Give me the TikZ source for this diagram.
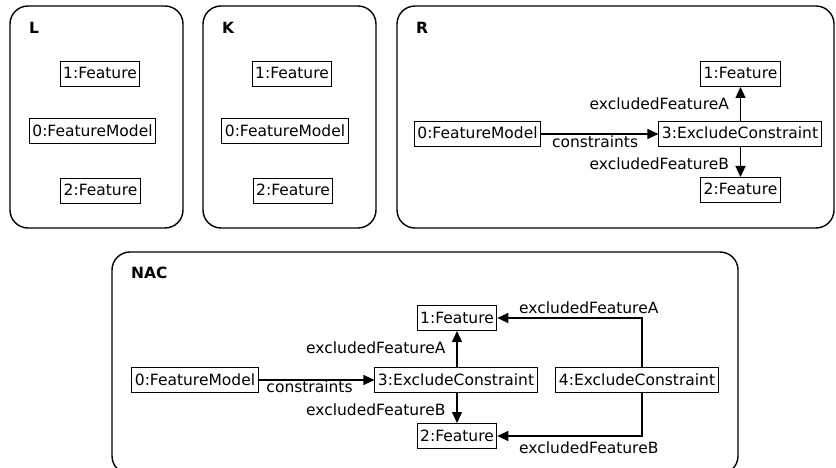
\documentclass[tikz,border=0pt]{standalone}
\usepackage{fontspec}
\setmainfont{DejaVu Sans}
\usetikzlibrary{arrows.meta,calc}
\begin{document}
\begin{tikzpicture}[x=1pt,y=-1pt,
  font=\fontsize{15.5}{18}\selectfont,
  container/.style={draw, line width=1.4pt, rounded corners=18pt},
  title/.style={font=\fontsize{15.5}{18}\selectfont\bfseries, anchor=west, inner sep=0pt},
  obj/.style={draw, line width=1pt, inner xsep=3pt, inner ysep=0pt, minimum height=25pt, text height=11.5pt, text depth=1.5pt},
  lbl/.style={inner sep=1pt, text height=11.5pt, text depth=3pt},
  conn/.style={line width=1.2pt, -{Triangle[length=11pt,width=10pt]}}
]
\useasboundingbox (0,0) rectangle (836,468);

% containers
\draw[container] (10,6) rectangle (183,228);
\draw[container] (203,6) rectangle (376,228);
\draw[container] (397,6) rectangle (834,228);
\draw[container] (112,252) rectangle (738,474);

\node[title] (tL) at (29,28) {L};
\node[title] (tK) at (222,28) {K};
\node[title] (tR) at (416,28) {R};
\node[title] (tN) at (131,273) {NAC};

% L
\node[obj] (l1) at (100,74) {1:Feature};
\node[obj] (l0) at (92.5,131.5) {0:FeatureModel};
\node[obj] (l2) at (100.5,191) {2:Feature};

% K
\node[obj] (k1) at (292,74) {1:Feature};
\node[obj] (k0) at (285,131.5) {0:FeatureModel};
\node[obj] (k2) at (293,191) {2:Feature};

% R
\node[obj] (r0) at (477.5,134) {0:FeatureModel};
\node[obj] (r3) at (740,134) {3:ExcludeConstraint};
\node[obj] (r1) at (740.5,74) {1:Feature};
\node[obj] (r2) at (740.5,190) {2:Feature};

\draw[conn] (r0) -- node[lbl, below, pos=0.46] {constraints} (r3);
\draw[conn] (r3.north -| r1.south) -- node[lbl, left=10pt, midway, yshift=-1pt] {excludedFeatureA} (r1.south);
\draw[conn] (r3.south -| r2.north) -- node[lbl, left=10pt, pos=0.62] {excludedFeatureB} (r2.north);

% NAC
\node[obj] (n0) at (195,380) {0:FeatureModel};
\node[obj] (n3) at (456,380) {3:ExcludeConstraint};
\node[obj] (n4) at (637,380) {4:ExcludeConstraint};
\node[obj] (n1) at (457,318) {1:Feature};
\node[obj] (n2) at (457,436) {2:Feature};

\draw[conn] (n0) -- node[lbl, below, pos=0.44, inner sep=0pt] {constraints} (n3);
\draw[conn] (n3.north -| n1.south) -- node[lbl, left=10pt, midway] {excludedFeatureA} (n1.south);
\draw[conn] (n3.south -| n2.north) -- node[lbl, left=10pt, pos=0.62] {excludedFeatureB} (n2.north);

\coordinate (n4t) at ([xshift=5pt]n4.north);
\coordinate (n4b) at ([xshift=5pt]n4.south);
\draw[conn] (n4t) |- node[lbl, pos=0.93, anchor=south west] {excludedFeatureA} (n1);
\draw[conn] (n4b) |- node[lbl, pos=0.93, anchor=north west, yshift=-4pt] {excludedFeatureB} (n2);
\end{tikzpicture}
\end{document}
